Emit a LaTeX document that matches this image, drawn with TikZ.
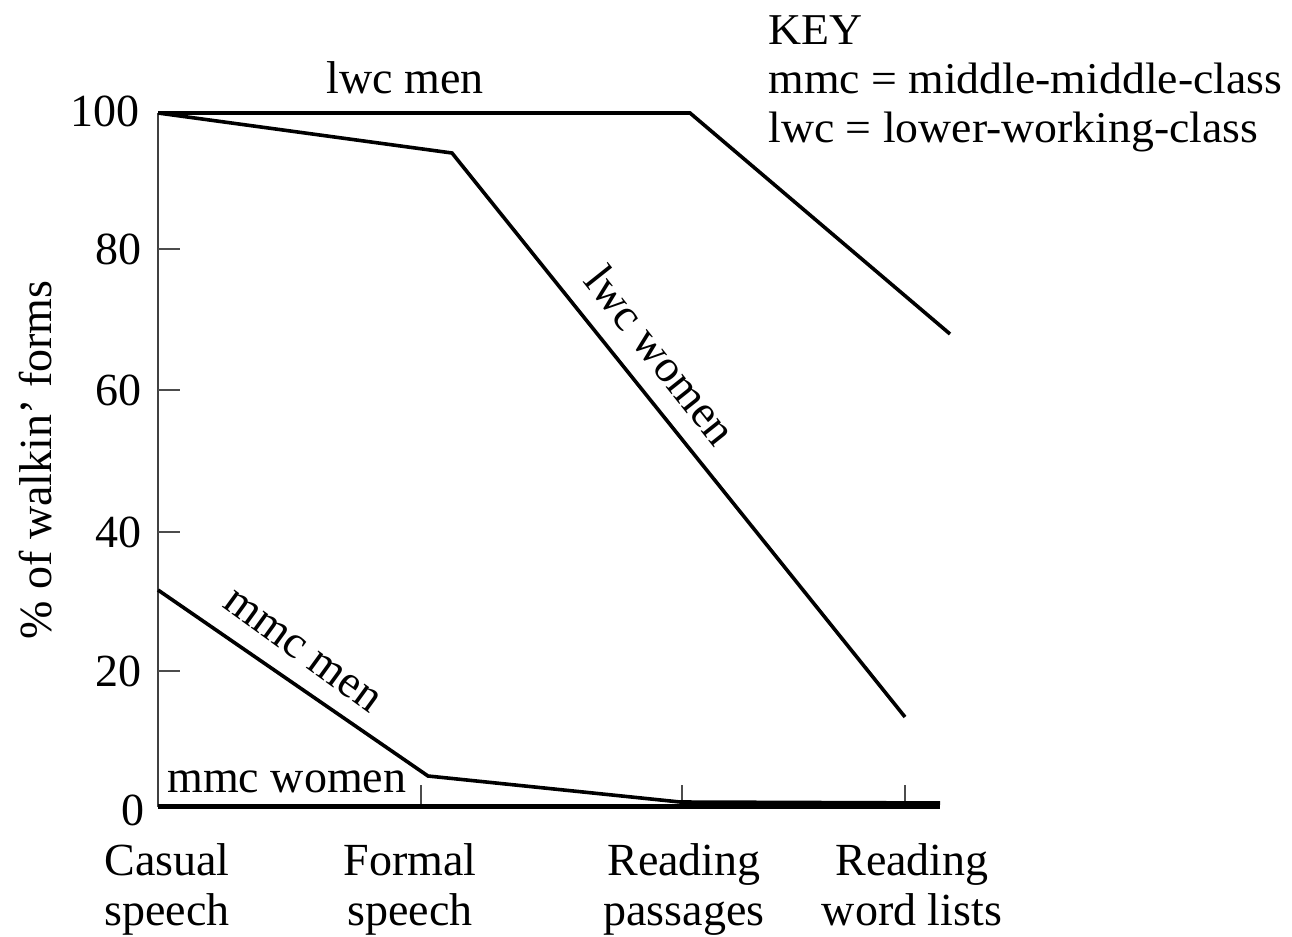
\documentclass[tikz,border=0pt]{standalone}
\usepackage{fontspec}
\setmainfont{Liberation Serif}
\newfontfamily\keyfont[FakeStretch=1.04]{Liberation Serif}
\begin{document}
\begin{tikzpicture}[x=0.5pt,y=-0.5pt,
  lbl/.style={inner sep=0pt,font=\fontsize{23}{25}\selectfont},
  keytext/.style={inner sep=0pt,align=left,font=\keyfont\fontsize{22}{24.5}\selectfont},
  datal/.style={line width=1.8pt,line join=miter,black},
  axisl/.style={line width=1.3pt,black!75},
  tickl/.style={line width=1.3pt,black!70}]
\useasboundingbox (0,0) rectangle (1292,937);
% axes
\coordinate (o) at (158,807);
\coordinate (ytop) at (158,113);
\coordinate (xend) at (940,807);
\draw[axisl] (ytop) -- (o);
\draw[line width=1.8pt] (o) -- (xend);
% y ticks
\foreach \v/\yy in {80/249,60/390,40/532,20/671}{
  \coordinate (yt\v) at (158,\yy);
  \coordinate (ye\v) at (180,\yy);
  \draw[tickl] (yt\v) -- (ye\v);
  \node[lbl,anchor=east] (yl\v) at (142,\yy) {\v};
}
\node[lbl,anchor=east] (yl100) at (140,111) {100};
\node[lbl,anchor=east] (yl0) at (145,810) {0};
% x ticks
\foreach \n/\xx in {f/421,p/682,w/905}{
  \coordinate (xb\n) at (\xx,807);
  \coordinate (xt\n) at (\xx,785);
  \draw[tickl] (xb\n) -- (xt\n);
}
% x labels
\node[lbl,align=center,anchor=north] (xc) at (167,843) {Casual\\speech};
\node[lbl,align=center,anchor=north] (xf) at (410,843) {Formal\\speech};
\node[lbl,align=center,anchor=north] (xp) at (684,843) {Reading\\passages};
\node[lbl,align=center,anchor=north] (xw) at (912,843) {Reading\\word lists};
% y label
\node[lbl,rotate=90,anchor=base] (ylab) at (51,460) {\% of walkin' forms};
% data points
\coordinate (a1) at (158,113);
\coordinate (a2) at (690,113);
\coordinate (a3) at (950,334);
\coordinate (b1) at (158,113);
\coordinate (b2) at (452,153);
\coordinate (b3) at (905,717);
\coordinate (c1) at (158,590);
\coordinate (c2) at (428,776);
\coordinate (c3) at (680,802);
\coordinate (c4) at (940,803);
\coordinate (d1) at (158,806);
\coordinate (d2) at (940,806);
% data lines
\draw[datal] (a1) -- (a2) -- (a3);
\draw[datal] (b1) -- (b2) -- (b3);
\draw[datal] (c1) -- (c2) -- (c3) -- (c4);
\draw[datal] (d1) -- (d2);
% line labels
\node[lbl,anchor=base] (lm) at (405,93) {lwc men};
\node[lbl,rotate=-51.5] (lw) at (661,355) {lwc women};
\node[lbl,rotate=-36] (mm) at (302,652) {mmc men};
\node[lbl,anchor=base west] (mw) at (167,792) {mmc women};
% key
\node[keytext,anchor=north west] (key) at (768,15) {KEY\\mmc = middle-middle-class\\lwc = lower-working-class};
\end{tikzpicture}
\end{document}
